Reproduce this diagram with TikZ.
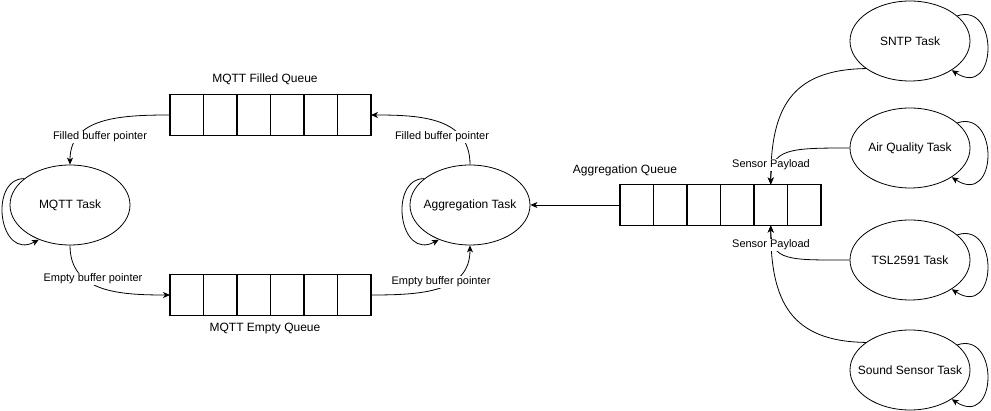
\documentclass[tikz,border=0pt]{standalone}
\usepackage{fontspec}
\setmainfont{Liberation Sans}
\usetikzlibrary{positioning,shapes.geometric,arrows.meta}
\begin{document}
\begin{tikzpicture}[x=1pt,y=-1pt,
    task/.style={ellipse, draw, line width=0.8pt, minimum width=120pt, minimum height=80pt, inner xsep=-15pt, inner ysep=0pt, font=\fontsize{12}{14}\selectfont},
    cell/.style={draw, line width=1.5pt, minimum width=33.5pt, minimum height=41pt, inner sep=0pt, outer sep=0pt},
    qlbl/.style={font=\fontsize{12}{14}\selectfont},
    elbl/.style={fill=white, inner sep=1pt, font=\fontsize{11}{13}\selectfont},
    link/.style={line width=0.8pt, -{Stealth[length=7pt,width=6pt,inset=2pt]}}]
    \useasboundingbox (0,0) rectangle (991,411);
    \node[task] (mqtt) at (70,205) {MQTT Task};
    \node[task] (agg) at (470,205) {Aggregation Task};
    \node[task] (sntp) at (910,41) {SNTP Task};
    \node[task] (air) at (910,148) {Air Quality Task};
    \node[task] (tsl) at (910,260) {TSL2591 Task};
    \node[task] (sound) at (910,370) {Sound Sensor Task};
    \foreach \q/\x/\y in {fq/170/115, eq/170/295, aq/620/205} {
        \node[cell, anchor=west] (\q1) at (\x,\y) {};
        \foreach \i [count=\j] in {2,...,6}
            \node[cell, right=0pt of \q\j] (\q\i) {};
    }
    \node[qlbl] (fqname) at (265,79) {MQTT Filled Queue};
    \node[qlbl] (eqname) at (265,329) {MQTT Empty Queue};
    \node[qlbl] (aqname) at (625,170) {Aggregation Queue};
    \draw[link] (fq1.west) .. controls +(-50,0) and +(0,-47) .. (mqtt.north);
    \draw[link] (agg.north) .. controls +(0,-47) and +(50,0) .. (fq6.east);
    \draw[link] (mqtt.south) .. controls +(0,47) and +(-50,0) .. (eq1.west);
    \draw[link] (eq6.east) .. controls +(50,0) and +(0,47) .. (agg.south);
    \draw[link] (aq1.west) -- (agg.east);
    \foreach \t in {mqtt,agg}
        \draw[link] (\t.150) .. controls +(-36,0) and +(-40,22) .. (\t.228);
    \foreach \t in {sntp,air,tsl,sound}
        \draw[link] (\t.28) .. controls +(42,-14) and +(46,30) .. (\t.325);
    \draw[link] (sntp.212) .. controls +(-75,1) and +(0,-76) .. (aq5.north);
    \draw[link] (air.west) .. controls +(-60,0) and +(0,-36) .. (aq5.north);
    \draw[link] (tsl.west) .. controls +(-60,0) and +(0,36) .. (aq5.south);
    \draw[link] (sound.148) .. controls +(-75,-1) and +(0,76) .. (aq5.south);
    \node[elbl] (fbl) at (100,137) {Filled buffer pointer};
    \node[elbl] (fbr) at (442,137) {Filled buffer pointer};
    \node[elbl] (ebl) at (93,279) {Empty buffer pointer};
    \node[elbl] (ebr) at (441,282) {Empty buffer pointer};
    \node[elbl] (spt) at (771,165) {Sensor Payload};
    \node[elbl] (spb) at (771,245) {Sensor Payload};
\end{tikzpicture}
\end{document}
